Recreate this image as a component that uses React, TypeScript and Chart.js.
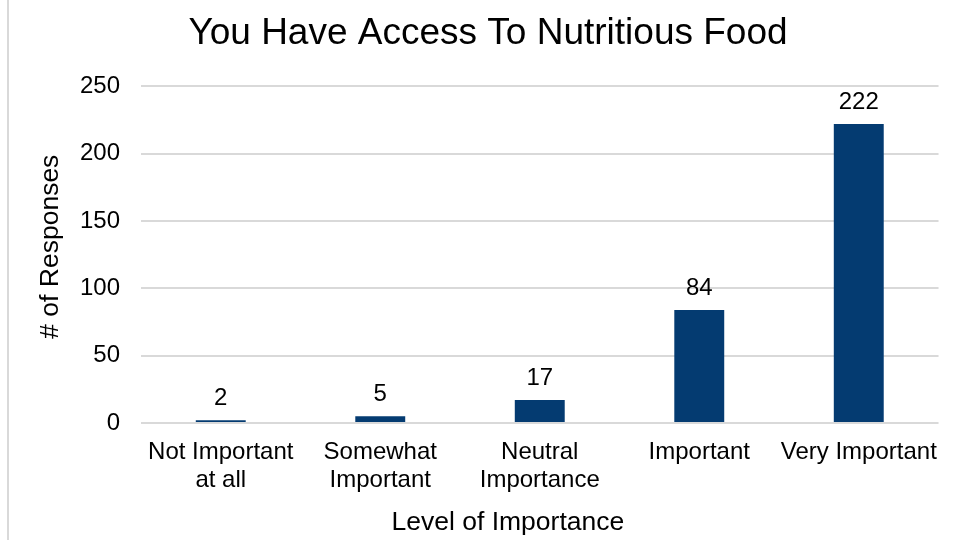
import React, { useEffect, useRef } from "react";
import { Chart, registerables } from "chart.js";

Chart.register(...registerables);

const categories: (string | string[])[] = [
  ["Not Important", "at all"],
  ["Somewhat", "Important"],
  ["Neutral", "Importance"],
  "Important",
  "Very Important",
];
const responses = [2, 5, 17, 84, 222];
const titleText = "You Have Access To Nutritious Food";
const xTitle = "Level of Importance";
const yTitle = "# of Responses";

const FONT = "'Liberation Sans', Arial, sans-serif";

const labelPlugin = {
  id: "barLabels",
  afterDatasetsDraw(chart: any) {
    const ctx = chart.ctx;
    const meta = chart.getDatasetMeta(0);
    const area = chart.chartArea;
    ctx.save();
    ctx.fillStyle = "#000";
    ctx.font = `24px ${FONT}`;
    ctx.textAlign = "center";
    ctx.textBaseline = "alphabetic";
    meta.data.forEach((el: any, i: number) => {
      ctx.fillText(String(responses[i]), el.x, el.y - 15);
    });
    // x-axis title
    ctx.font = `26.5px ${FONT}`;
    ctx.textBaseline = "middle";
    ctx.fillText(xTitle, area.left + (area.right - area.left) * 0.46, 523);
    // y-axis title
    ctx.translate(51, (area.top + area.bottom) / 2 - 8);
    ctx.rotate(-Math.PI / 2);
    ctx.fillText(yTitle, 0, 0);
    ctx.restore();
  },
};

export default function App() {
  const ref = useRef<HTMLCanvasElement>(null);
  useEffect(() => {
    const chart = new Chart(ref.current!, {
      type: "bar",
      data: {
        labels: categories,
        datasets: [
          {
            data: responses,
            backgroundColor: "#043B71",
            barPercentage: 0.626,
            categoryPercentage: 0.5,
          },
        ],
      },
      options: {
        animation: false,
        responsive: false,
        maintainAspectRatio: false,
        layout: { padding: { left: 35, right: 12, top: 12, bottom: 0 } },
        plugins: {
          legend: { display: false },
          tooltip: { enabled: false },
          title: {
            display: true,
            text: titleText,
            color: "#000",
            font: { family: FONT, size: 37, weight: "normal", lineHeight: 1.2 },
            padding: { top: 0, bottom: 30 },
          },
        },
        scales: {
          x: {
            grid: { display: false, drawTicks: false },
            border: { display: false },
            afterFit: (scale: any) => {
              scale.height = 117;
            },
            ticks: {
              color: "#000",
              font: { family: FONT, size: 24, lineHeight: 1.17 },
              padding: 15,
              maxRotation: 0,
              autoSkip: false,
            },
            title: { display: false },
          },
          y: {
            min: 0,
            max: 250,
            grid: { color: "#d9d9d9", lineWidth: 2, drawTicks: false },
            border: { display: false },
            afterFit: (scale: any) => {
              scale.width = 106;
            },
            ticks: {
              stepSize: 50,
              color: "#000",
              font: { family: FONT, size: 24 },
              padding: 21,
            },
            title: { display: false },
          },
        },
      },
      plugins: [labelPlugin],
    });
    return () => chart.destroy();
  }, []);
  return (
    <div style={{ position: "absolute", left: 0, top: 0, width: 953, height: 540, background: "#fff" }}>
      <div style={{ position: "absolute", left: 7, top: 0, width: 2, height: 540, background: "#d9d9d9" }} />
      <canvas ref={ref} width={953} height={540} style={{ position: "absolute", left: 0, top: 0 }} />
    </div>
  );
}
